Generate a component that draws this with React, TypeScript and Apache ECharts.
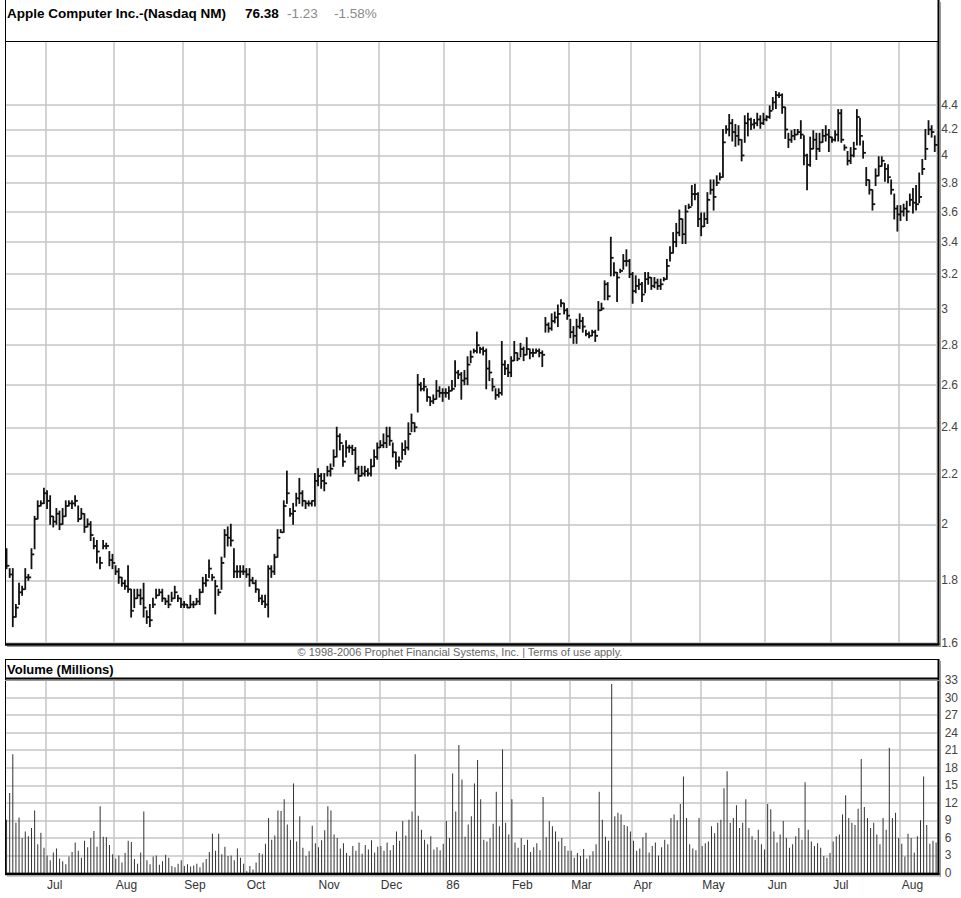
import React, { useEffect, useRef } from "react";
import * as echarts from "echarts";

// Month labels shown at the first trading day of each month (first block = late June 1985, unlabeled)
const monthNames = ["", "Jul", "Aug", "Sep", "Oct", "Nov", "Dec", "86", "Feb", "Mar", "Apr", "May", "Jun", "Jul", "Aug"];

// Daily bars: [high, low, close]
const pxJun85 = [[1.91,1.84,1.85],[1.84,1.81,1.82],[1.84,1.65,1.68],[1.72,1.68,1.71],[1.79,1.72,1.76],[1.78,1.75,1.77],[1.84,1.77,1.81],[1.82,1.80,1.81],[1.91,1.84,1.89],[2.03,1.91,2.02],[2.09,2.02,2.07],[2.09,2.07,2.08],[2.14,2.08,2.12]];
const pxJul85 = [[2.13,2.06,2.09],[2.11,2.00,2.03],[2.03,1.99,2.01],[2.06,2.00,2.04],[2.05,1.98,2.00],[2.06,2.00,2.03],[2.09,2.03,2.07],[2.09,2.07,2.08],[2.09,2.06,2.08],[2.11,2.07,2.09],[2.07,2.01,2.02],[2.06,2.02,2.04],[2.04,1.97,1.99],[2.02,1.99,2.00],[2.01,1.94,1.96],[1.95,1.91,1.92],[1.94,1.86,1.90],[1.88,1.84,1.86],[1.94,1.91,1.92],[1.93,1.91,1.92],[1.90,1.85,1.87],[1.89,1.84,1.86]];
const pxAug85 = [[1.85,1.82,1.83],[1.84,1.79,1.81],[1.81,1.78,1.79],[1.80,1.77,1.78],[1.85,1.76,1.77],[1.77,1.68,1.70],[1.77,1.71,1.74],[1.77,1.74,1.75],[1.77,1.72,1.74],[1.79,1.68,1.71],[1.70,1.66,1.68],[1.72,1.65,1.67],[1.74,1.71,1.72],[1.77,1.74,1.75],[1.77,1.75,1.76],[1.77,1.73,1.74],[1.74,1.72,1.73],[1.75,1.71,1.72],[1.76,1.73,1.74],[1.78,1.74,1.76],[1.75,1.73,1.74],[1.74,1.71,1.72]];
const pxSep85 = [[1.73,1.71,1.72],[1.72,1.71,1.71],[1.75,1.71,1.72],[1.73,1.71,1.72],[1.74,1.72,1.73],[1.77,1.72,1.76],[1.81,1.76,1.79],[1.82,1.78,1.80],[1.87,1.81,1.84],[1.82,1.80,1.81],[1.80,1.69,1.78],[1.77,1.75,1.76],[1.88,1.77,1.86],[1.98,1.88,1.96],[1.99,1.92,1.95],[2.00,1.92,1.94],[1.91,1.81,1.83],[1.85,1.81,1.83],[1.85,1.81,1.83],[1.85,1.82,1.83]];
const pxOct85 = [[1.84,1.81,1.82],[1.84,1.78,1.80],[1.81,1.79,1.79],[1.80,1.76,1.77],[1.77,1.73,1.74],[1.75,1.72,1.73],[1.75,1.71,1.72],[1.85,1.68,1.84],[1.85,1.81,1.83],[1.89,1.82,1.88],[1.98,1.88,1.95],[1.98,1.97,1.97],[2.09,1.97,2.07],[2.21,2.08,2.12],[2.06,2.03,2.04],[2.08,2.00,2.05],[2.12,2.07,2.10],[2.18,2.08,2.12],[2.13,2.07,2.09],[2.09,2.06,2.08],[2.09,2.07,2.08],[2.09,2.07,2.09],[2.20,2.07,2.17]];
const pxNov85 = [[2.22,2.15,2.19],[2.20,2.14,2.17],[2.20,2.13,2.16],[2.23,2.19,2.21],[2.24,2.19,2.22],[2.30,2.23,2.27],[2.40,2.27,2.36],[2.37,2.30,2.33],[2.32,2.23,2.25],[2.34,2.27,2.31],[2.32,2.29,2.31],[2.32,2.28,2.30],[2.31,2.20,2.22],[2.23,2.17,2.19],[2.23,2.19,2.20],[2.23,2.19,2.21],[2.22,2.19,2.20],[2.26,2.19,2.23],[2.30,2.23,2.27],[2.33,2.26,2.31]];
const pxDec85 = [[2.34,2.31,2.32],[2.37,2.31,2.33],[2.40,2.31,2.36],[2.40,2.32,2.34],[2.33,2.27,2.29],[2.29,2.22,2.25],[2.27,2.23,2.25],[2.33,2.26,2.30],[2.34,2.28,2.31],[2.42,2.30,2.37],[2.46,2.38,2.42],[2.42,2.38,2.40],[2.65,2.47,2.60],[2.61,2.57,2.58],[2.63,2.57,2.59],[2.58,2.52,2.54],[2.54,2.50,2.52],[2.55,2.51,2.53],[2.62,2.53,2.57],[2.59,2.54,2.56],[2.58,2.52,2.56]];
const pxJan86 = [[2.58,2.54,2.56],[2.59,2.53,2.57],[2.62,2.57,2.58],[2.72,2.59,2.66],[2.67,2.63,2.65],[2.66,2.53,2.62],[2.67,2.60,2.63],[2.74,2.60,2.70],[2.77,2.71,2.74],[2.78,2.76,2.77],[2.87,2.76,2.80],[2.79,2.76,2.78],[2.79,2.75,2.77],[2.78,2.58,2.68],[2.72,2.62,2.66],[2.63,2.57,2.59],[2.58,2.53,2.55],[2.58,2.54,2.56],[2.82,2.55,2.70],[2.72,2.65,2.68],[2.70,2.64,2.66]];
const pxFeb86 = [[2.74,2.64,2.72],[2.82,2.72,2.76],[2.76,2.72,2.73],[2.81,2.74,2.78],[2.79,2.72,2.75],[2.84,2.75,2.78],[2.78,2.73,2.76],[2.78,2.74,2.76],[2.78,2.76,2.77],[2.78,2.74,2.76],[2.77,2.69,2.75],[2.95,2.87,2.91],[2.92,2.87,2.89],[2.97,2.88,2.93],[2.98,2.92,2.95],[3.02,2.90,2.97],[3.05,3.01,3.03],[3.03,2.97,2.99],[3.00,2.94,2.96]];
const pxMar86 = [[2.94,2.84,2.87],[2.90,2.81,2.85],[2.94,2.81,2.90],[2.97,2.89,2.93],[2.95,2.87,2.90],[2.88,2.85,2.86],[2.87,2.84,2.85],[2.88,2.85,2.87],[2.88,2.82,2.85],[3.04,2.88,2.99],[3.03,2.99,3.00],[3.16,3.05,3.14],[3.15,3.05,3.07],[3.43,3.19,3.30],[3.27,3.19,3.21],[3.21,3.04,3.18],[3.23,3.21,3.22],[3.32,3.23,3.28],[3.35,3.25,3.28],[3.29,3.18,3.20]];
const pxApr86 = [[3.21,3.03,3.10],[3.19,3.09,3.13],[3.17,3.11,3.14],[3.15,3.04,3.08],[3.21,3.09,3.17],[3.21,3.14,3.18],[3.18,3.11,3.13],[3.18,3.12,3.15],[3.17,3.11,3.13],[3.17,3.11,3.14],[3.18,3.16,3.17],[3.29,3.17,3.25],[3.37,3.28,3.33],[3.46,3.33,3.40],[3.52,3.37,3.46],[3.61,3.44,3.55],[3.55,3.39,3.45],[3.64,3.39,3.60],[3.65,3.62,3.63],[3.78,3.64,3.72],[3.79,3.68,3.72],[3.73,3.50,3.55]];
const pxMay86 = [[3.59,3.44,3.50],[3.59,3.50,3.55],[3.73,3.52,3.68],[3.82,3.72,3.75],[3.82,3.61,3.70],[3.85,3.78,3.80],[3.87,3.82,3.84],[4.20,3.84,4.10],[4.23,4.17,4.20],[4.32,4.15,4.25],[4.28,4.11,4.18],[4.24,4.07,4.15],[4.23,4.08,4.12],[4.12,3.96,4.00],[4.31,4.10,4.25],[4.33,4.15,4.28],[4.29,4.20,4.24],[4.28,4.21,4.25],[4.33,4.23,4.28],[4.31,4.21,4.25],[4.33,4.24,4.28]];
const pxJun86 = [[4.31,4.27,4.30],[4.39,4.29,4.35],[4.46,4.36,4.42],[4.51,4.37,4.48],[4.50,4.46,4.48],[4.49,4.33,4.38],[4.38,4.13,4.20],[4.17,4.06,4.12],[4.19,4.10,4.15],[4.20,4.12,4.16],[4.20,4.16,4.18],[4.27,4.13,4.16],[4.15,3.93,4.00],[4.01,3.75,3.93],[4.14,3.92,4.05],[4.19,4.05,4.12],[4.17,3.97,4.05],[4.17,4.03,4.10],[4.20,4.10,4.15],[4.23,4.11,4.16],[4.20,4.03,4.14]];
const pxJul86 = [[4.14,4.10,4.12],[4.19,4.11,4.16],[4.36,4.11,4.33],[4.36,4.10,4.12],[4.08,4.04,4.06],[4.03,3.93,3.96],[4.06,3.94,4.00],[4.10,3.99,4.05],[4.36,4.08,4.30],[4.29,4.08,4.15],[4.11,3.98,4.02],[3.91,3.78,3.82],[3.82,3.72,3.75],[3.75,3.61,3.65],[3.90,3.78,3.85],[3.99,3.85,3.92],[3.99,3.92,3.96],[3.94,3.81,3.90],[3.93,3.80,3.84],[3.82,3.72,3.75],[3.72,3.55,3.62],[3.64,3.47,3.58]];
const pxAug86 = [[3.64,3.54,3.60],[3.65,3.57,3.62],[3.67,3.54,3.60],[3.72,3.64,3.68],[3.76,3.59,3.66],[3.78,3.61,3.65],[3.87,3.66,3.70],[3.97,3.86,3.90],[4.20,3.97,4.05],[4.27,4.16,4.20],[4.23,4.14,4.18],[4.15,4.03,4.08]];

// Daily volume, millions
const volJun85 = [9.1, 13.7, 20.3, 8.6, 9.5, 6.0, 7.1, 6.3, 7.7, 10.7, 4.9, 6.9, 4.3];
const volJul85 = [3.0, 2.2, 3.5, 4.2, 2.5, 2.0, 1.5, 2.8, 3.6, 5.2, 3.8, 2.6, 5.5, 4.4, 6.0, 7.2, 4.5, 11.4, 6.2, 6.1, 4.8, 3.2];
const volAug85 = [2.5, 3.0, 1.8, 3.4, 5.5, 5.3, 2.4, 1.6, 3.5, 10.5, 2.2, 1.5, 2.8, 3.0, 1.4, 2.0, 3.1, 2.6, 1.2, 1.0, 1.6, 2.2];
const volSep85 = [1.2, 1.5, 1.1, 1.3, 1.6, 1.0, 1.8, 2.4, 3.6, 6.7, 3.8, 6.7, 3.2, 4.5, 2.9, 3.0, 2.2, 4.2, 2.6, 1.6];
const volOct85 = [0.3, 1.2, 0.6, 1.8, 3.4, 3.2, 5.0, 9.4, 5.7, 6.4, 10.7, 10.6, 12.6, 8.3, 5.7, 15.3, 5.4, 9.7, 4.3, 2.9, 3.7, 8.1, 5.1];
const volNov85 = [4.4, 5.6, 7.3, 11.4, 10.7, 6.6, 6.0, 4.2, 5.1, 3.4, 2.9, 4.6, 3.8, 5.2, 3.3, 4.8, 4.0, 5.6, 3.5, 4.5];
const volDec85 = [4.6, 3.8, 5.2, 3.9, 4.8, 7.1, 5.5, 8.9, 6.4, 9.1, 10.5, 20.3, 9.8, 7.4, 5.7, 4.9, 6.3, 4.0, 4.4, 3.9, 5.0];
const volJan86 = [8.9, 6.0, 17.0, 10.5, 21.9, 16.0, 6.2, 8.3, 9.7, 15.3, 19.3, 12.6, 5.7, 5.4, 6.0, 8.4, 13.9, 8.0, 21.1, 8.6, 6.6];
const volFeb86 = [12.6, 5.2, 4.3, 6.0, 4.8, 5.7, 3.6, 4.4, 5.1, 3.9, 13.0, 6.1, 8.9, 8.0, 7.1, 5.4, 6.0, 4.6, 3.8];
const volMar86 = [3.8, 2.6, 3.4, 2.9, 4.1, 2.5, 3.0, 3.7, 4.9, 13.9, 9.1, 6.2, 5.5, 32.3, 9.7, 10.3, 10.0, 8.2, 8.0, 7.1];
const volApr86 = [5.5, 3.8, 4.2, 6.1, 6.9, 3.5, 4.6, 5.2, 3.0, 4.4, 5.7, 4.9, 9.4, 10.0, 9.0, 11.8, 16.5, 9.4, 4.9, 4.2, 3.9, 9.4];
const volMay86 = [4.6, 5.1, 5.4, 8.0, 6.8, 8.6, 9.1, 14.5, 17.4, 8.6, 9.4, 11.6, 7.7, 8.6, 12.6, 7.7, 6.3, 5.7, 7.4, 4.9, 4.0];
const volJun86 = [11.8, 10.9, 7.1, 5.2, 6.6, 8.9, 6.0, 4.3, 4.9, 6.3, 7.7, 5.7, 15.5, 7.4, 5.4, 4.6, 5.1, 4.3, 2.9, 2.6, 3.4];
const volJul86 = [5.4, 6.3, 6.6, 10.0, 13.3, 9.4, 8.6, 8.2, 11.0, 19.5, 11.3, 9.4, 7.7, 8.6, 6.6, 4.9, 9.4, 7.4, 21.4, 9.4, 10.3, 6.0];
const volAug86 = [5.0, 2.8, 6.7, 6.0, 3.5, 6.3, 9.0, 16.5, 8.2, 5.0, 5.5, 5.2];

const priceTicks = [1.6, 1.8, 2, 2.2, 2.4, 2.6, 2.8, 3, 3.2, 3.4, 3.6, 3.8, 4, 4.2, 4.4];
const priceMin = 1.6;
const priceMax = 4.96;
const volumeMax = 33;
const volumeInterval = 3;

const headerName = "Apple Computer Inc.-(Nasdaq NM)";
const headerLast = "76.38";
const headerChange = "-1.23";
const headerPct = "-1.58%";
const copyright = "\u00A9 1998-2006 Prophet Financial Systems, Inc. | Terms of use apply.";
const volumeTitle = "Volume (Millions)";

const monthPrices = [pxJun85, pxJul85, pxAug85, pxSep85, pxOct85, pxNov85, pxDec85, pxJan86, pxFeb86, pxMar86, pxApr86, pxMay86, pxJun86, pxJul86, pxAug86];
const monthVolumes = [volJun85, volJul85, volAug85, volSep85, volOct85, volNov85, volDec85, volJan86, volFeb86, volMar86, volApr86, volMay86, volJun86, volJul86, volAug86];

export default function App() {
  const ref = useRef<HTMLDivElement>(null);

  useEffect(() => {
    if (!ref.current) return;
    const chart = echarts.init(ref.current, undefined, { renderer: "svg" });

    const cats: string[] = [];
    const priceData: number[][] = [];
    const volData: number[] = [];
    const labelAt = new Map<number, string>();
    const starts = new Set<number>();
    monthPrices.forEach((bars, m) => {
      const startIdx = cats.length;
      if (m > 0) {
        starts.add(startIdx);
        labelAt.set(startIdx, monthNames[m]);
      }
      bars.forEach((b, j) => {
        const idx = cats.length;
        cats.push(String(idx));
        priceData.push([idx, Math.log(b[0]), Math.log(b[1]), Math.log(b[2])]);
        volData.push(monthVolumes[m][j]);
      });
    });

    const lnTicks = priceTicks.map((t) => Math.log(t));
    const gridColor = "#c6c6c6";
    const font = "Liberation Sans";

    const renderItem = (params: any, api: any) => {
      const x = api.value(0);
      const hi = api.coord([x, api.value(1)]);
      const lo = api.coord([x, api.value(2)]);
      const cl = api.coord([x, api.value(3)]);
      const style = { stroke: "#111", lineWidth: 1.8 };
      return {
        type: "group",
        children: [
          { type: "line", shape: { x1: hi[0], y1: hi[1] - 0.5, x2: lo[0], y2: lo[1] + 0.5 }, style },
          { type: "line", shape: { x1: cl[0], y1: cl[1], x2: cl[0] + 2.8, y2: cl[1] }, style },
        ],
      };
    };

    const line = (x1: number, y1: number, x2: number, y2: number, w: number, c: string) => ({
      type: "line",
      silent: true,
      z: 100,
      shape: { x1, y1, x2, y2 },
      style: { stroke: c, lineWidth: w },
    });

    const option: any = {
      animation: false,
      backgroundColor: "#ffffff",
      textStyle: { fontFamily: font },
      grid: [
        { left: 5, top: 41, width: 933, height: 602 },
        { left: 5, top: 680, width: 933, height: 193 },
      ],
      xAxis: [
        {
          type: "category",
          gridIndex: 0,
          data: cats,
          boundaryGap: true,
          axisLine: { show: false },
          axisTick: { show: false },
          axisLabel: { show: false },
          splitLine: { show: true, interval: (i: number) => starts.has(i), lineStyle: { color: gridColor, width: 1.5 } },
        },
        {
          type: "category",
          gridIndex: 1,
          data: cats,
          boundaryGap: true,
          axisLine: { show: false },
          axisTick: { show: false },
          axisLabel: {
            show: true,
            interval: (i: number) => starts.has(i),
            formatter: (_v: string, i: number) => labelAt.get(i) || "",
            align: "left",
            margin: 6,
            fontSize: 12,
            color: "#333",
            fontFamily: font,
          },
          splitLine: { show: true, interval: (i: number) => starts.has(i), lineStyle: { color: gridColor, width: 1.5 } },
        },
      ],
      yAxis: [
        {
          type: "value",
          gridIndex: 0,
          position: "right",
          min: Math.log(priceMin),
          max: Math.log(priceMax),
          axisLine: { show: false },
          axisTick: { show: false, customValues: lnTicks },
          axisLabel: {
            customValues: lnTicks,
            formatter: (v: number) => String(Math.round(Math.exp(v) * 10) / 10),
            margin: 5,
            fontSize: 12,
            color: "#444",
            fontFamily: font,
            padding: [0, 0, 3, 0],
          },
          splitLine: { show: true, lineStyle: { color: gridColor, width: 1.5 } },
        },
        {
          type: "value",
          gridIndex: 1,
          position: "right",
          min: 0,
          max: volumeMax,
          interval: volumeInterval,
          axisLine: { show: false },
          axisTick: { show: false },
          axisLabel: { margin: 7, fontSize: 12, color: "#444", fontFamily: font },
          splitLine: { show: true, lineStyle: { color: gridColor, width: 1.5 } },
        },
      ],
      series: [
        {
          type: "custom",
          xAxisIndex: 0,
          yAxisIndex: 0,
          data: priceData,
          renderItem,
          encode: { x: 0, y: [1, 2, 3] },
          z: 5,
          silent: true,
        },
        {
          type: "bar",
          xAxisIndex: 1,
          yAxisIndex: 1,
          data: volData,
          barWidth: 1,
          itemStyle: { color: "#333" },
          z: 5,
          silent: true,
        },
      ],
      graphic: [
        { type: "text", x: 7, y: 13, z: 100, silent: true, style: { text: headerName, font: `bold 13.5px "${font}"`, fill: "#000", align: "left", verticalAlign: "middle" } },
        { type: "text", x: 245, y: 13, z: 100, silent: true, style: { text: headerLast, font: `bold 13.5px "${font}"`, fill: "#000", align: "left", verticalAlign: "middle" } },
        { type: "text", x: 287, y: 13, z: 100, silent: true, style: { text: headerChange, font: `13.5px "${font}"`, fill: "#8a8a8a", align: "left", verticalAlign: "middle" } },
        { type: "text", x: 334, y: 13, z: 100, silent: true, style: { text: headerPct, font: `13.5px "${font}"`, fill: "#8a8a8a", align: "left", verticalAlign: "middle" } },
        { type: "text", x: 460, y: 652, z: 100, silent: true, style: { text: copyright, font: `11px "${font}"`, fill: "#666", align: "center", verticalAlign: "middle" } },
        { type: "text", x: 7, y: 669, z: 100, silent: true, style: { text: volumeTitle, font: `bold 13px "${font}"`, fill: "#000", align: "left", verticalAlign: "middle" } },
        // price panel frame
        line(5.5, 0, 5.5, 645, 1, "#000"),
        line(938.5, 0, 938.5, 645, 2, "#000"),
        line(940.5, 2, 940.5, 647, 1, "#999"),
        line(5, 41.5, 938, 41.5, 1, "#000"),
        line(5, 644.5, 939.5, 644.5, 2.5, "#000"),
        line(7, 646.5, 941, 646.5, 1, "#999"),
        // volume panel frame
        line(5, 659.5, 939, 659.5, 1, "#000"),
        line(5.5, 659, 5.5, 875, 1, "#000"),
        line(938.5, 659, 938.5, 875, 2, "#000"),
        line(940.5, 661, 940.5, 877, 1, "#999"),
        line(5, 678.5, 939, 678.5, 2, "#000"),
        line(5, 680.5, 939, 680.5, 1, "#999"),
        line(5, 874, 939.5, 874, 2.5, "#000"),
        line(7, 876, 941, 876, 1, "#999"),
      ],
    };

    chart.setOption(option);
    return () => chart.dispose();
  }, []);

  return (
    <div
      ref={ref}
      style={{ position: "absolute", left: 0, top: 0, width: 961, height: 898, background: "#fff" }}
    />
  );
}
